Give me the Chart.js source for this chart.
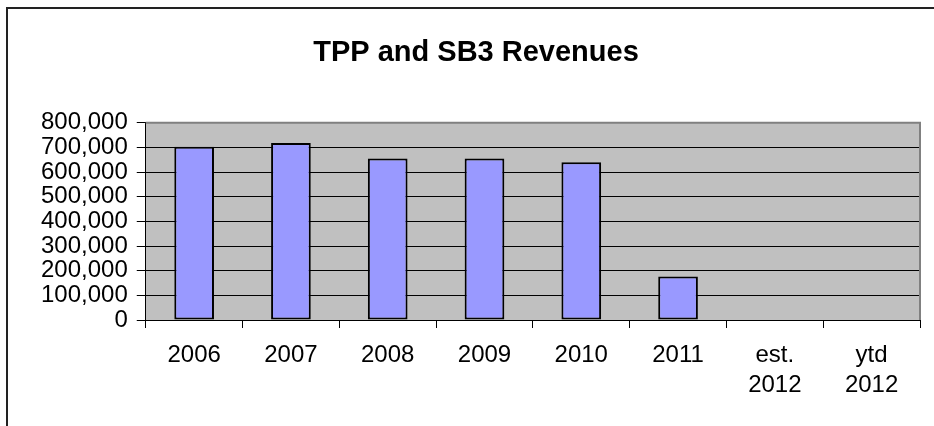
<!DOCTYPE html>
<html>
<head>
<meta charset="utf-8">
<script src="https://cdn.jsdelivr.net/npm/chart.js@4"></script>
<style>
  html, body { margin: 0; padding: 0; background: #fff; }
  #wrap { width: 934px; height: 426px; }
</style>
</head>
<body>
<div id="wrap"><canvas id="myChart" width="934" height="426"></canvas></div>
<script>
const years = ['2006', '2007', '2008', '2009', '2010', '2011', ['est.', '2012'], ['ytd', '2012']];
const revenues = [703000, 718000, 655000, 655000, 640000, 176000, null, null];
const yTicks = [0, 100000, 200000, 300000, 400000, 500000, 600000, 700000, 800000];

const ctx = document.getElementById('myChart');

// gray plot area, gray top/right edge and the outer frame lines
const plotArea = {
  id: 'plotArea',
  beforeDraw(chart) {
    const c = chart.ctx;
    const a = chart.chartArea;
    c.save();
    c.fillStyle = '#c0c0c0';
    c.fillRect(a.left, a.top, a.right - a.left, a.bottom - a.top);
    c.strokeStyle = '#222';
    c.lineWidth = 2;
    c.beginPath();
    c.moveTo(7, 426);
    c.lineTo(7, 8);
    c.lineTo(934, 8);
    c.stroke();
    c.restore();
  },
  beforeDatasetsDraw(chart) {
    const c = chart.ctx;
    const a = chart.chartArea;
    c.save();
    c.strokeStyle = '#808080';
    c.lineWidth = 2;
    c.beginPath();
    c.moveTo(a.left, a.top);
    c.lineTo(a.right, a.top);
    c.lineTo(a.right, a.bottom);
    c.stroke();
    c.restore();
  }
};

new Chart(ctx, {
  type: 'bar',
  data: {
    labels: years,
    datasets: [{
      label: 'Revenues',
      data: revenues,
      backgroundColor: '#9999ff',
      borderColor: '#000',
      borderWidth: 2,
      borderSkipped: false,
      categoryPercentage: 1,
      barPercentage: 0.41
    }]
  },
  options: {
    responsive: false,
    animation: false,
    devicePixelRatio: 1,
    layout: { padding: { left: 32, right: 14, top: 16, bottom: 14 } },
    font: { family: '"Liberation Sans", Arial, sans-serif' },
    plugins: {
      legend: { display: false },
      tooltip: { enabled: false },
      title: {
        display: true,
        text: 'TPP and SB3 Revenues',
        color: '#000',
        font: { family: '"Liberation Sans", Arial, sans-serif', size: 29, weight: 'bold' },
        padding: { top: 20, bottom: 52 }
      }
    },
    scales: {
      x: {
        grid: { drawOnChartArea: false, color: '#000', tickLength: 8, offset: true },
        border: { color: '#000', width: 1 },
        ticks: {
          color: '#000',
          padding: 12,
          maxRotation: 0,
          autoSkip: false,
          font: { family: '"Liberation Sans", Arial, sans-serif', size: 24, lineHeight: 1.25 }
        }
      },
      y: {
        min: 0,
        max: 800000,
        afterBuildTicks(scale) {
          scale.ticks = yTicks.map(v => ({ value: v }));
        },
        grid: { color: '#000', tickLength: 9 },
        border: { color: '#000', width: 1 },
        ticks: {
          color: '#000',
          padding: 9,
          autoSkip: false,
          font: { family: '"Liberation Sans", Arial, sans-serif', size: 24, lineHeight: 1.0 },
          callback: v => v.toLocaleString('en-US')
        }
      }
    }
  },
  plugins: [plotArea]
});
</script>
</body>
</html>
